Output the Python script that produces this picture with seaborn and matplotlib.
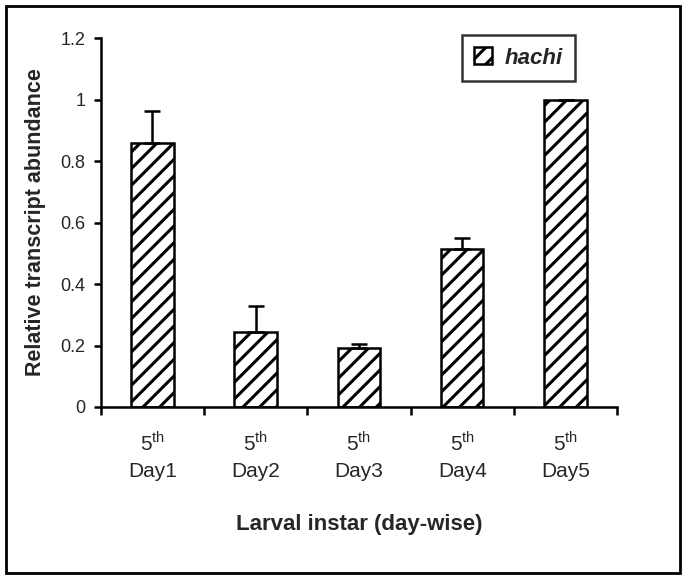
import numpy as np
import pandas as pd
import matplotlib
matplotlib.use('Agg')
import matplotlib.pyplot as plt
import seaborn as sns
from matplotlib.patches import Rectangle, Patch

# data
days = ['Day1', 'Day2', 'Day3', 'Day4', 'Day5']
abundance = [0.86, 0.243, 0.192, 0.513, 1.0]
err_upper = [0.104, 0.086, 0.013, 0.037, 0.0]
tick_labels = ['5$^{\\mathregular{th}}$\n' + d for d in days]

sns.set_style('white')
plt.rcParams['font.family'] = ['Liberation Sans', 'DejaVu Sans']
plt.rcParams['hatch.linewidth'] = 2.2

df = pd.DataFrame({'day': days, 'value': abundance})

fig = plt.figure(figsize=(6.85, 5.81), dpi=100)
ax = fig.add_axes([0.147, 0.2995, 0.754, 0.635])

sns.barplot(data=df, x='day', y='value', color='white', edgecolor='black',
            linewidth=1.8, width=0.41, ax=ax)
for p in ax.patches:
    p.set_hatch('//')
    p.set_facecolor('white')

ax.errorbar(np.arange(len(days)), abundance,
            yerr=[np.zeros(len(days)), err_upper], fmt='none',
            ecolor='black', elinewidth=1.8, capsize=6, capthick=1.8)

ax.set_ylim(0, 1.2)
ax.set_xlim(-0.5, 4.5)
ax.set_yticks([0, 0.2, 0.4, 0.6, 0.8, 1, 1.2])
ax.set_yticklabels(['0', '0.2', '0.4', '0.6', '0.8', '1', '1.2'], fontsize=13)
ax.set_xticks(range(len(days)))
ax.set_xticklabels(tick_labels, fontsize=15, linespacing=1.5)
ax.tick_params(axis='x', length=0, pad=17)
ax.set_xticks(np.arange(-0.5, 5, 1), minor=True)
ax.tick_params(axis='x', which='minor', direction='out', length=6, width=1.8,
               color='black', bottom=True)
ax.tick_params(axis='y', direction='out', length=5, width=1.8, color='black',
               left=True, pad=6)

for side in ['top', 'right']:
    ax.spines[side].set_visible(False)
for side in ['left', 'bottom']:
    ax.spines[side].set_color('black')
    ax.spines[side].set_linewidth(1.8)

ax.set_xlabel('Larval instar (day-wise)', fontsize=16, fontweight='bold', labelpad=24)
ax.set_ylabel('Relative transcript abundance', fontsize=15.5, fontweight='bold', labelpad=10)

handle = Patch(facecolor='white', edgecolor='black', hatch='//', linewidth=1.8)
leg = ax.legend([handle], ['hachi'], loc='upper right', bbox_to_anchor=(0.919, 1.008),
                frameon=True, fancybox=False, edgecolor='black',
                prop={'weight': 'bold', 'style': 'italic', 'size': 16},
                handlelength=0.8, handleheight=0.8, handletextpad=0.6,
                borderpad=0.55, borderaxespad=0)
leg.get_frame().set_linewidth(1.8)

fig.patches.append(Rectangle((0.0088, 0.0138), 0.984, 0.976, transform=fig.transFigure,
                             fill=False, edgecolor='black', linewidth=2))

fig.savefig('out.png', dpi=100)
